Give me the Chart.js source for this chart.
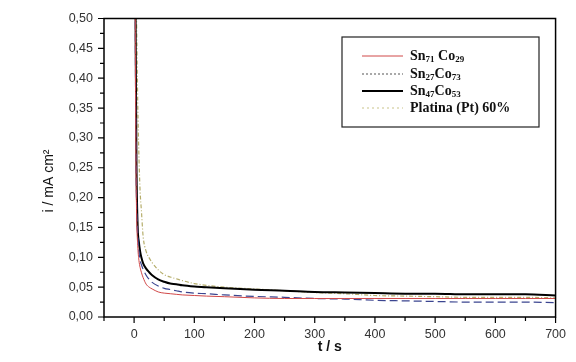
<!DOCTYPE html>
<html lang="pt">
<head>
  <meta charset="UTF-8">
  <title>i vs t</title>
  <script src="https://cdn.jsdelivr.net/npm/chart.js"></script>
  <style>
    html, body { margin: 0; padding: 0; background: #fff; }
    #wrap { width: 576px; height: 362px; }
  </style>
</head>
<body>
<div id="wrap"><canvas id="chronoChart" width="576" height="362"></canvas></div>

<script>
  // time axis (s) shared by all curves
  const timeS = [0, 2, 3, 4, 6, 8, 10, 12, 15, 20, 25, 30, 40, 50, 60, 70, 80, 100, 120, 150,
                 200, 250, 300, 350, 400, 450, 500, 550, 600, 650, 700];

  // current density, mA cm^-2
  const sn71co29 = [1.5, 0.50, 0.28, 0.18, 0.12, 0.095, 0.083, 0.075, 0.066, 0.055, 0.050, 0.047, 0.042, 0.040, 0.039, 0.038, 0.037, 0.036, 0.035, 0.034,
                    0.032, 0.031, 0.031, 0.031, 0.031, 0.031, 0.031, 0.031, 0.031, 0.031, 0.031];
  const sn27co73 = [1.5, 0.50, 0.30, 0.20, 0.14, 0.110, 0.095, 0.088, 0.080, 0.070, 0.063, 0.058, 0.052, 0.048, 0.046, 0.044, 0.042, 0.040, 0.039, 0.037,
                    0.0345, 0.033, 0.031, 0.030, 0.028, 0.027, 0.026, 0.025, 0.025, 0.025, 0.024];
  const sn47co53 = [1.5, 0.60, 0.40, 0.25, 0.15, 0.125, 0.110, 0.100, 0.090, 0.081, 0.075, 0.070, 0.063, 0.059, 0.056, 0.055, 0.053, 0.051, 0.050, 0.048,
                    0.0455, 0.044, 0.042, 0.041, 0.040, 0.039, 0.039, 0.038, 0.038, 0.038, 0.036];
  const platina = [1.5, 0.70, 0.55, 0.50, 0.36, 0.27, 0.21, 0.18, 0.135, 0.110, 0.099, 0.091, 0.079, 0.071, 0.067, 0.064, 0.061, 0.056, 0.053, 0.050,
                   0.047, 0.044, 0.041, 0.039, 0.036, 0.035, 0.034, 0.033, 0.033, 0.033, 0.032];

  const seriesNames = ['Sn_71 Co_29', 'Sn_27Co_73', 'Sn_47Co_53', 'Platina (Pt) 60%'];
  // the legend samples in the original don't quite match the plotted styles
  const legendDash = [[], [2, 2], [], [2, 3]];
  const legendColor = ['#d04848', '#555', '#000', '#c9c48a'];
  const yTicksMinor = 0.025;
  const xTicksMinor = 50;

  function pts(vals) {
    return timeS.map((t, i) => ({ x: t, y: vals[i] }));
  }

  // draws "Sn_71 Co_29" with the digits after "_" as subscripts
  function drawChem(ctx, txt, x, y) {
    const parts = txt.split(/_(\d+)/);
    parts.forEach((p, i) => {
      if (!p) return;
      if (i % 2 === 1) {
        ctx.font = 'bold 9px "Liberation Serif", serif';
        ctx.fillText(p, x, y + 4);
      } else {
        ctx.font = 'bold 14px "Liberation Serif", serif';
        ctx.fillText(p, x, y);
      }
      x += ctx.measureText(p).width;
    });
  }

  const framePlugin = {
    id: 'frame',
    afterDraw(chart) {
      const ctx = chart.ctx;
      const a = chart.chartArea;
      const xs = chart.scales.x, ys = chart.scales.y;
      ctx.save();
      ctx.strokeStyle = '#000';
      ctx.lineWidth = 1.5;
      ctx.strokeRect(a.left, a.top, a.right - a.left, a.bottom - a.top);

      // tick marks, long for labelled ones
      ctx.lineWidth = 1.2;
      ctx.beginPath();
      for (let v = -50; v <= 700; v += xTicksMinor) {
        const px = xs.getPixelForValue(v);
        const len = v % 100 === 0 ? 6 : 4;
        ctx.moveTo(px, a.bottom);
        ctx.lineTo(px, a.bottom + len);
      }
      for (let k = 0; k <= 20; k++) {
        const py = ys.getPixelForValue(k * yTicksMinor);
        const len = k % 2 === 0 ? 6 : 4;
        ctx.moveTo(a.left, py);
        ctx.lineTo(a.left - len, py);
      }
      ctx.stroke();

      // axis titles
      ctx.fillStyle = '#111';
      ctx.textAlign = 'center';
      ctx.textBaseline = 'middle';
      ctx.font = 'bold 14px "Liberation Sans", Arial, sans-serif';
      ctx.fillText('t / s', (a.left + a.right) / 2, 347);
      ctx.save();
      ctx.translate(49, 181);
      ctx.rotate(-Math.PI / 2);
      ctx.font = '14px "Liberation Sans", Arial, sans-serif';
      ctx.fillText('i / mA cm²', 0, 0);
      ctx.restore();

      // legend box
      const bx = 342, by = 37, bw = 197, bh = 90;
      ctx.lineWidth = 1.2;
      ctx.strokeStyle = '#222';
      ctx.fillStyle = '#fff';
      ctx.fillRect(bx, by, bw, bh);
      ctx.strokeRect(bx, by, bw, bh);
      const rows = [56, 74, 91, 108];
      chart.data.datasets.forEach((ds, i) => {
        const ry = rows[i];
        ctx.beginPath();
        ctx.strokeStyle = legendColor[i];
        ctx.lineWidth = ds.borderWidth;
        ctx.setLineDash(legendDash[i]);
        ctx.moveTo(362, ry);
        ctx.lineTo(403, ry);
        ctx.stroke();
        ctx.setLineDash([]);
        ctx.fillStyle = '#111';
        ctx.textAlign = 'left';
        ctx.textBaseline = 'middle';
        drawChem(ctx, seriesNames[i], 410, ry);
      });
      ctx.restore();
    }
  };

  const ctx = document.getElementById('chronoChart').getContext('2d');
  const chart = new Chart(ctx, {
    type: 'line',
    data: {
      datasets: [
        {
          label: seriesNames[0].replace(/_/g, ''),
          data: pts(sn71co29),
          borderColor: '#d04848',
          borderWidth: 1,
          pointRadius: 0,
          cubicInterpolationMode: 'monotone'
        },
        {
          label: seriesNames[1].replace(/_/g, ''),
          data: pts(sn27co73),
          borderColor: '#3b4590',
          borderWidth: 1.2,
          borderDash: [8, 4],
          pointRadius: 0,
          cubicInterpolationMode: 'monotone'
        },
        {
          label: seriesNames[2].replace(/_/g, ''),
          data: pts(sn47co53),
          borderColor: '#000',
          borderWidth: 2,
          pointRadius: 0,
          cubicInterpolationMode: 'monotone'
        },
        {
          label: seriesNames[3],
          data: pts(platina),
          borderColor: '#b5ad6a',
          borderWidth: 1.2,
          borderDash: [4, 2, 1, 2],
          pointRadius: 0,
          cubicInterpolationMode: 'monotone'
        }
      ]
    },
    options: {
      responsive: false,
      animation: false,
      layout: { padding: { top: 13, right: 15, left: 0, bottom: 0 } },
      plugins: {
        legend: { display: false },
        tooltip: { enabled: false }
      },
      scales: {
        x: {
          type: 'linear',
          min: -50,
          max: 700,
          afterFit: s => { s.height = 45; },
          grid: { drawOnChartArea: false, drawTicks: false },
          border: { display: false },
          ticks: {
            stepSize: 50,
            autoSkip: false,
            maxRotation: 0,
            padding: 10,
            color: '#333',
            font: { family: '"Liberation Sans", Arial, sans-serif', size: 12.5 },
            callback: v => (v % 100 === 0 ? String(v) : '')
          }
        },
        y: {
          min: 0,
          max: 0.5,
          afterFit: s => { s.width = 104; },
          grid: { drawOnChartArea: false, drawTicks: false },
          border: { display: false },
          ticks: {
            stepSize: 0.05,
            padding: 11,
            color: '#333',
            font: { family: '"Liberation Sans", Arial, sans-serif', size: 12.5 },
            callback: v => v.toFixed(2).replace('.', ',')
          }
        }
      }
    },
    plugins: [framePlugin]
  });
</script>
</body>
</html>
